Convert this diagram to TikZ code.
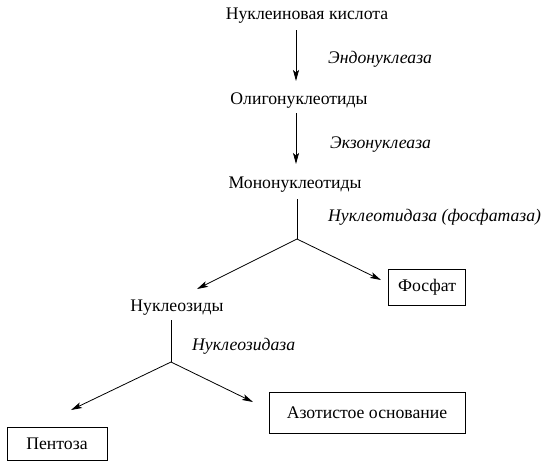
\documentclass[tikz,border=0pt]{standalone}
\usepackage{fontspec}
\setmainfont{Liberation Serif}
\usetikzlibrary{arrows.meta}
\begin{document}
\begin{tikzpicture}[x=1pt,y=-1pt,
  txt/.style={inner sep=0pt,font=\fontsize{17.7}{20}\selectfont},
  lbl/.style={inner sep=0pt,anchor=west,font=\fontsize{17.7}{20}\selectfont\itshape},
  boxnode/.style={draw,line width=0.8pt,inner sep=0pt,font=\fontsize{17.7}{20}\selectfont},
  arr/.style={line width=0.8pt,-{Stealth[length=11pt,width=6pt,inset=2.5pt]}},
  ln/.style={line width=0.8pt}]
\useasboundingbox (0,0) rectangle (546,464);
% texts
\node[txt] (n1) at (307,16) {Нуклеиновая кислота};
\node[txt] (n2) at (299,101) {Олигонуклеотиды};
\node[txt] (n3) at (295,185) {Мононуклеотиды};
\node[txt] (n4) at (177,308) {Нуклеозиды};
\node[lbl] (e1) at (328,59) {Эндонуклеаза};
\node[lbl] (e2) at (330,145) {Экзонуклеаза};
\node[lbl] (e3) at (328,217) {Нуклеотидаза (фосфатаза)};
\node[lbl] (e4) at (192,346) {Нуклеозидаза};
\node[boxnode,minimum width=77pt,minimum height=36pt] (ph) at (427,287) {Фосфат};
\node[boxnode,minimum width=196pt,minimum height=41pt] (az) at (367,412.5) {Азотистое основание};
\node[boxnode,minimum width=100pt,minimum height=33pt] (pt) at (57,443.5) {Пентоза};
% connector points
\coordinate (a1s) at (296,30);
\coordinate (a1e) at (296,81);
\coordinate (a2s) at (296,113);
\coordinate (a2e) at (296,164);
\coordinate (j1s) at (297,199);
\coordinate (j1) at (297,239);
\coordinate (l1) at (197,289);
\coordinate (r1) at (381,280);
\coordinate (j2s) at (171,320);
\coordinate (j2) at (171,362);
\coordinate (l2) at (71,410);
\coordinate (r2) at (253,402);
% connectors
\draw[arr] (a1s) -- (a1e);
\draw[arr] (a2s) -- (a2e);
\draw[ln] (j1s) -- (j1);
\draw[arr] (j1) -- (l1);
\draw[arr] (j1) -- (r1);
\draw[ln] (j2s) -- (j2);
\draw[arr] (j2) -- (l2);
\draw[arr] (j2) -- (r2);
\end{tikzpicture}
\end{document}
